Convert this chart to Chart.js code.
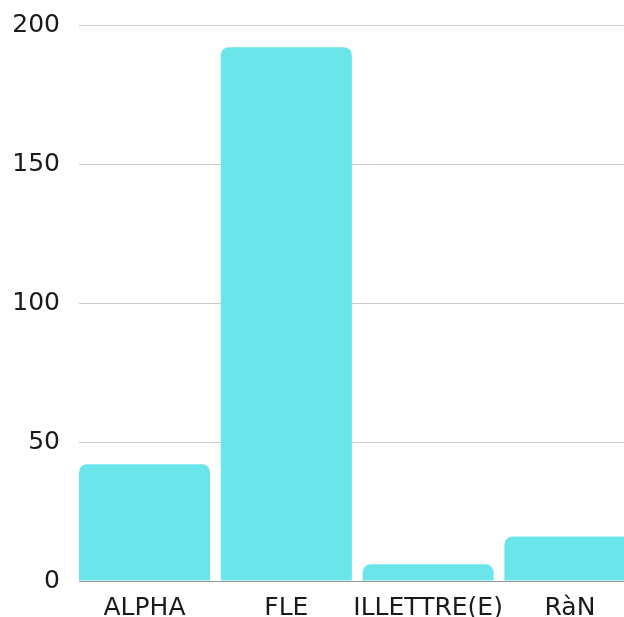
<!DOCTYPE html>
<html>
<head>
<meta charset="utf-8">
<script src="https://cdn.jsdelivr.net/npm/chart.js@4/dist/chart.umd.min.js"></script>
<style>
  html, body { margin: 0; padding: 0; background: #fff; overflow: hidden; }
  canvas { display: block; }
</style>
</head>
<body>
<canvas id="barChart" width="655" height="617"></canvas>
<script>
// Données du graphique
const categories = ["ALPHA", "FLE", "ILLETTRE(E)", "RàN"];
const counts = [42, 192, 6, 16];
const yTicks = [0, 50, 100, 150, 200];

const fontMain = { family: "'DejaVu Sans', sans-serif", size: 25 };

const ctx = document.getElementById("barChart").getContext("2d");
const barChart = new Chart(ctx, {
  type: "bar",
  data: {
    datasets: [{
      data: counts.map((v, i) => ({ x: i, y: v })),
      backgroundColor: "#6ae5e9",
      borderRadius: 8,
      borderSkipped: "start",
      categoryPercentage: 0.924,
      barPercentage: 1
    }]
  },
  options: {
    responsive: false,
    animation: false,
    layout: { padding: { top: 25, left: 0, right: 0, bottom: 0 } },
    plugins: { legend: { display: false }, tooltip: { enabled: false } },
    scales: {
      x: {
        type: "linear",
        offset: false,
        min: -0.462,
        max: 3.6,
        grid: { display: false, drawTicks: false },
        border: { display: true, color: "#999", width: 1 },
        afterFit: (scale) => { scale.height = 36; },
        ticks: {
          stepSize: 1,
          includeBounds: false,
          autoSkip: false,
          minRotation: 0,
          maxRotation: 0,
          padding: 12,
          color: "#1a1a1a",
          font: fontMain,
          callback: (v) => categories[v]
        }
      },
      y: {
        min: yTicks[0],
        max: yTicks[yTicks.length - 1],
        // ticks invisibles pour écarter les libellés sans toucher au haut
        grid: { color: "#cccccc", drawTicks: true, tickLength: 19, tickColor: "rgba(0,0,0,0)" },
        border: { display: false },
        afterFit: (scale) => { scale.width = 79; },
        ticks: {
          stepSize: yTicks[1] - yTicks[0],
          padding: 0,
          color: "#1a1a1a",
          font: fontMain
        }
      }
    }
  }
});
</script>
</body>
</html>
